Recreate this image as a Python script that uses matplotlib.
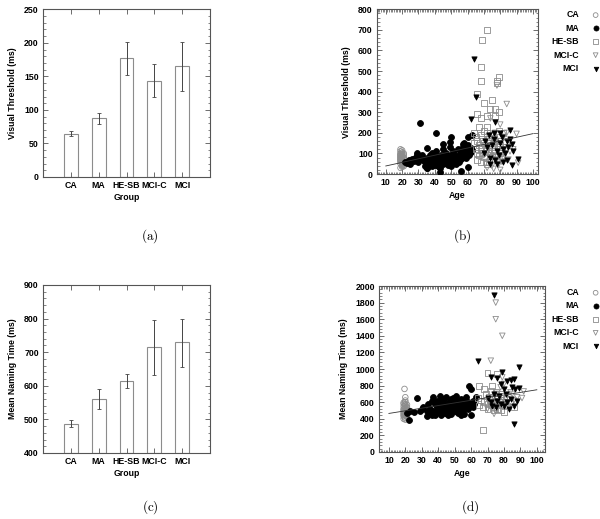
import matplotlib
matplotlib.use("Agg")
import matplotlib.pyplot as plt
import numpy as np
from matplotlib.ticker import MultipleLocator, AutoMinorLocator

plt.rcParams['font.family'] = ['Liberation Sans', 'DejaVu Sans']
plt.rcParams['font.weight'] = 'bold'
plt.rcParams['font.size'] = 6.3
plt.rcParams['mathtext.fontset'] = 'cm'

# ---------------- data ----------------
groups = ["CA", "MA", "HE-SB", "MCI-C", "MCI"]

vt_mean = [64, 87.5, 177, 143, 165]
vt_lo = [61, 78.5, 152.6, 119, 128]
vt_hi = [68, 95, 200.8, 168, 200.8]

nt_mean = [487, 560, 615, 714.5, 730]
nt_lo = [476, 532, 594, 633, 657]
nt_hi = [499, 589.5, 635, 796, 799]

# panel (b): age vs visual threshold
ca_age_b = [19, 19, 19, 19, 19, 19, 19, 19, 19, 19, 20, 20, 20, 20, 20, 20, 20, 20, 20, 20,
            20, 20, 21, 21, 21, 21, 21, 21, 21, 21, 19, 20, 21, 20, 19, 20, 21, 20, 19, 20]
ca_vt_b = [120, 110, 100, 95, 90, 85, 80, 75, 70, 65, 60, 55, 50, 45, 40, 35, 105, 98, 88, 78,
           68, 58, 48, 38, 62, 72, 82, 92, 55, 45, 30, 115, 100, 65, 50, 42, 75, 85, 60, 52]

ma_age_b = [22, 23, 24, 25, 26, 27, 28, 29, 30, 31, 32, 33, 34, 34, 35, 35, 35, 36, 36, 37,
            37, 38, 38, 38, 39, 39, 39, 40, 40, 40, 41, 41, 41, 42, 42, 42, 43, 43, 43, 44,
            44, 45, 45, 45, 46, 46, 47, 47, 48, 48, 49, 49, 50, 50, 50, 51, 51, 52, 52, 53,
            53, 54, 54, 55, 55, 56, 56, 57, 57, 58, 58, 59, 59, 60, 60, 61, 61, 62, 62, 63,
            31, 41, 50, 60, 63, 45, 35, 29, 43, 56, 60, 35, 58, 57, 49]
ma_vt_b = [60, 55, 70, 50, 75, 65, 80, 100, 60, 75, 90, 70, 40, 60, 55, 80, 30, 70, 50, 90,
           45, 65, 40, 100, 70, 55, 85, 60, 45, 95, 75, 50, 110, 65, 40, 80, 55, 70, 30, 90,
           60, 75, 50, 120, 65, 85, 55, 100, 70, 45, 80, 130, 60, 90, 40, 75, 110, 65, 95, 85,
           50, 70, 120, 90, 60, 100, 75, 85, 130, 95, 110, 80, 120, 100, 140, 110, 90, 125, 105, 115,
           250, 198, 182, 180, 190, 145, 125, 92, 8, 16, 35, 28, 152, 148, 155]

he_age_b = [72, 69, 68, 68, 66, 79, 78, 78, 75, 70, 74, 77, 79, 66, 77, 68, 72, 67, 72, 64,
            65, 66, 67, 68, 69, 70, 71, 72, 73, 74, 75, 76, 77, 78, 64, 65, 66, 67, 68, 69,
            70, 71, 73, 74, 75, 76, 79, 80, 81, 82, 70, 72, 66, 68, 73, 75, 77, 79, 80, 71]
he_vt_b = [700, 650, 520, 450, 390, 470, 450, 440, 360, 345, 315, 315, 300, 290, 280, 270, 280, 230, 230, 200,
           180, 160, 140, 120, 100, 80, 60, 200, 170, 150, 130, 110, 90, 70, 150, 120, 100, 90, 190, 170,
           150, 130, 110, 95, 85, 175, 160, 140, 120, 200, 210, 50, 70, 60, 60, 190, 160, 210, 100, 110]

mcic_age_b = [78, 84, 80, 74, 73, 90, 91, 72, 76, 80, 75, 77, 79, 81, 82, 83, 85, 86, 76, 74,
              78, 71, 73, 77, 80, 82, 84, 88, 75, 79, 70, 73, 76, 81, 83, 85]
mcic_vt_b = [430, 340, 240, 270, 185, 195, 55, 30, 25, 20, 160, 140, 120, 100, 80, 130, 150, 110, 90, 110,
             70, 140, 60, 200, 160, 180, 200, 120, 40, 45, 90, 120, 150, 60, 95, 70]

mci_age_b = [64, 65, 62, 77, 86, 91, 87, 74, 78, 84, 86, 87, 80, 73, 76, 75, 78, 79, 82, 84,
             81, 72, 70, 74, 77, 80, 83, 85, 88, 76, 82, 71]
mci_vt_b = [560, 375, 265, 255, 215, 75, 45, 50, 50, 70, 170, 145, 200, 190, 170, 140, 110, 90, 120, 160,
            180, 130, 100, 80, 70, 150, 100, 130, 110, 200, 60, 160]

fit_b = [1.744, 21.6]   # slope, intercept

# panel (d): age vs mean naming time
ca_age_d = [19.5, 20, 20, 20, 19, 21, 20, 19, 21, 20, 19, 21, 20, 19, 21, 20, 19, 21, 20, 19,
            21, 20, 19, 20, 21, 19, 20, 21, 19, 20, 19, 21, 20, 19, 21]
ca_nt_d = [760, 660, 620, 600, 580, 570, 560, 550, 540, 530, 520, 510, 500, 490, 480, 470, 460, 450, 440, 430,
           420, 410, 400, 390, 530, 510, 485, 465, 445, 575, 595, 495, 455, 475, 435]

ma_age_d = [22, 21, 23, 25, 27, 29, 31, 33, 34, 35, 35, 36, 37, 37, 38, 38, 39, 39, 40, 40,
            41, 41, 42, 42, 43, 43, 44, 44, 45, 45, 46, 46, 47, 47, 48, 48, 49, 49, 50, 50,
            51, 51, 52, 52, 53, 53, 54, 54, 55, 55, 56, 56, 57, 57, 58, 58, 59, 59, 60, 60,
            61, 61, 62, 63, 30, 36, 44, 48, 52, 56, 40, 46, 33]
ma_nt_d = [380, 470, 490, 480, 650, 490, 540, 430, 580, 520, 470, 620, 660, 500, 450, 580, 540, 620, 480, 600,
           670, 560, 450, 520, 610, 640, 500, 470, 660, 560, 590, 510, 480, 620, 540, 460, 650, 590, 560, 500,
           680, 610, 550, 470, 590, 520, 640, 450, 580, 510, 460, 620, 560, 660, 520, 600, 800, 570, 760, 450,
           620, 540, 580, 660, 520, 450, 570, 640, 600, 540, 530, 450, 500]

he_age_d = [70, 67, 76, 65, 73, 68, 72, 75, 78, 80, 64, 66, 68, 70, 72, 74, 76, 78, 80, 82,
            84, 86, 69, 71, 73, 75, 77, 79, 81, 67, 65, 70, 74, 76, 78, 72]
he_nt_d = [950, 260, 940, 800, 800, 760, 740, 720, 700, 680, 650, 620, 600, 580, 560, 540, 520, 500, 480, 560,
           600, 540, 700, 660, 640, 620, 600, 580, 640, 540, 560, 520, 500, 680, 560, 600]

mcic_age_d = [75, 75, 79, 72, 79, 92, 91, 74, 78, 80, 76, 82, 84, 73, 71, 77, 81, 83, 86, 88,
              70, 75, 79, 85]
mcic_nt_d = [1800, 1600, 1400, 1100, 900, 730, 650, 460, 780, 820, 700, 680, 720, 640, 600, 560, 600, 540, 620, 660,
             520, 500, 620, 700]

mci_age_d = [74, 64, 89, 79, 72, 76, 84, 86, 86, 87, 89, 82, 78, 80, 74, 70, 72, 76, 78, 80,
             82, 84, 86, 88, 75, 77, 81, 83, 73, 85]
mci_nt_d = [1890, 1100, 1030, 960, 900, 890, 870, 880, 340, 760, 770, 860, 820, 760, 700, 650, 600, 620, 580, 560,
            600, 640, 560, 620, 540, 680, 700, 520, 560, 780]

fit_d = [3.167, 433.0]

fit_x = [10, 100]

# ---------------- figure ----------------
fig = plt.figure(figsize=(6.0, 5.19), dpi=100)

spine_col = '#555555'
gray = '#8c8c8c'
FS = 6.3


def style_axes(ax):
    for s in ax.spines.values():
        s.set_color(spine_col)
        s.set_linewidth(0.8)
    ax.tick_params(which='both', direction='in', top=True, right=True, color=spine_col,
                   labelsize=FS, pad=3)
    ax.tick_params(which='major', length=3.5, width=0.6)
    ax.tick_params(which='minor', length=1.8, width=0.5)
    for lab in ax.get_xticklabels() + ax.get_yticklabels():
        lab.set_fontweight('bold')


def bar_panel(rect, means, lo, hi, ylim, ystep, ylabel):
    ax = fig.add_axes(rect)
    x = np.arange(1, len(groups) + 1)
    m = np.array(means)
    yerr = np.vstack([m - np.array(lo), np.array(hi) - m])
    ax.bar(x, m - ylim[0], bottom=ylim[0], width=0.5, color='white', edgecolor=gray, linewidth=0.8)
    ax.errorbar(x, m, yerr=yerr, fmt='none', ecolor='#444444', elinewidth=0.7, capsize=1.5, capthick=0.6)
    ax.set_xlim(0, 6)
    ax.set_ylim(*ylim)
    ax.set_xticks(x)
    ax.set_xticklabels(groups)
    ax.yaxis.set_major_locator(MultipleLocator(ystep))
    ax.yaxis.set_minor_locator(AutoMinorLocator(5))
    ax.set_xlabel('Group', fontsize=FS, fontweight='bold', labelpad=2)
    ax.set_ylabel(ylabel, fontsize=FS, fontweight='bold', labelpad=5)
    style_axes(ax)
    return ax


def scatter_panel(rect, data, fit, ylim, ystep, ylabel, xlim, leg_anchor):
    ax = fig.add_axes(rect)
    styles = [
        dict(marker='o', facecolors='none', edgecolors=gray),
        dict(marker='o', facecolors='black', edgecolors='black'),
        dict(marker='s', facecolors='none', edgecolors=gray),
        dict(marker='v', facecolors='none', edgecolors=gray),
        dict(marker='v', facecolors='black', edgecolors='black'),
    ]
    sizes = [16, 18, 18, 16, 14]
    handles = []
    for (ages, vals), st, sz, name in zip(data, styles, sizes, groups):
        h = ax.scatter(ages, vals, s=sz, linewidths=0.6, label=name, zorder=3, **st)
        handles.append(h)
    fx = np.array(fit_x, dtype=float)
    ax.plot(fx, fit[0] * fx + fit[1], color='#333333', linewidth=0.6, zorder=4)
    ax.set_xlim(*xlim)
    ax.set_ylim(*ylim)
    ax.xaxis.set_major_locator(MultipleLocator(10))
    ax.xaxis.set_minor_locator(MultipleLocator(1))
    ax.yaxis.set_major_locator(MultipleLocator(ystep))
    ax.yaxis.set_minor_locator(AutoMinorLocator(5))
    ax.set_xlabel('Age', fontsize=FS, fontweight='bold', labelpad=3)
    ax.set_ylabel(ylabel, fontsize=FS, fontweight='bold', labelpad=5)
    style_axes(ax)
    ax.legend(handles=handles, loc='upper right', bbox_to_anchor=leg_anchor,
              bbox_transform=fig.transFigure, frameon=False, markerfirst=False,
              handlelength=1.0, handletextpad=1.4, labelspacing=0.5, borderaxespad=0,
              borderpad=0, markerscale=0.85, prop=dict(size=FS, weight='bold'))
    return ax


bar_panel([0.0717, 0.659, 0.2783, 0.323], vt_mean, vt_lo, vt_hi, (0, 250), 50,
          'Visual Threshold (ms)')
bar_panel([0.0717, 0.1272, 0.2783, 0.3237], nt_mean, nt_lo, nt_hi, (400, 900), 100,
          'Mean Naming Time (ms)')

scatter_panel([0.628, 0.6647, 0.2683, 0.3174],
              [(ca_age_b, ca_vt_b), (ma_age_b, ma_vt_b), (he_age_b, he_vt_b),
               (mcic_age_b, mcic_vt_b), (mci_age_b, mci_vt_b)],
              fit_b, (0, 800), 100, 'Visual Threshold (ms)', (4.5, 103), (1.0, 0.98))
scatter_panel([0.6317, 0.1291, 0.2767, 0.3198],
              [(ca_age_d, ca_nt_d), (ma_age_d, ma_nt_d), (he_age_d, he_nt_d),
               (mcic_age_d, mcic_nt_d), (mci_age_d, mci_nt_d)],
              fit_d, (0, 2000), 200, 'Mean Naming Time (ms)', (4, 105), (1.0, 0.445))

for lab, x, y in [('(a)', 0.25, 0.545), ('(b)', 0.77, 0.545), ('(c)', 0.25, 0.022), ('(d)', 0.783, 0.022)]:
    fig.text(x, y, r'$\mathrm{' + lab + '}$', ha='center', va='center', fontsize=9.5, fontweight='normal')

fig.savefig('out.png', dpi=100)
